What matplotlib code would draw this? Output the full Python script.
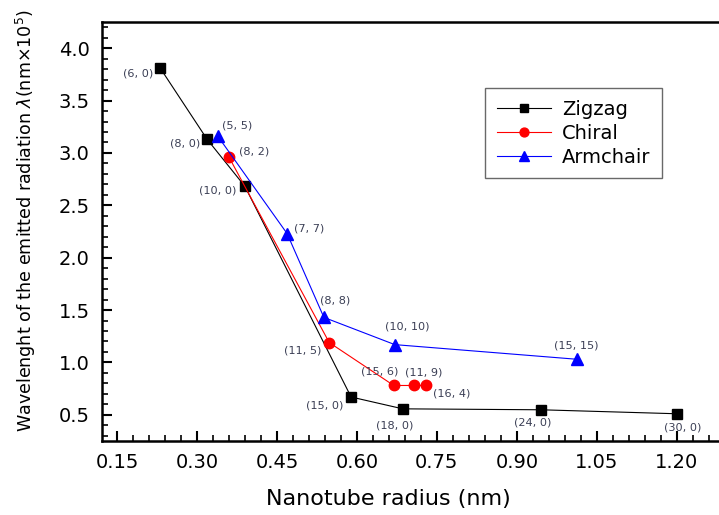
import matplotlib
matplotlib.use("Agg")
import matplotlib.pyplot as plt
from matplotlib.ticker import MultipleLocator, FormatStrFormatter

plt.rcParams['font.family'] = ['DejaVu Sans']

# Emission wavelength vs. nanotube radius for the three chiralities
zigzag_r = [0.231, 0.319, 0.390, 0.589, 0.686, 0.945, 1.200]
zigzag_w = [3.81, 3.13, 2.68, 0.67, 0.557, 0.548, 0.51]
zigzag_lab = ["(6,0)", "(8,0)", "(10,0)", "(15,0)", "(18,0)", "(24,0)", "(30,0)"]

chiral_r = [0.360, 0.548, 0.669, 0.707, 0.729]
chiral_w = [2.96, 1.19, 0.78, 0.78, 0.78]
chiral_lab = ["(8,2)", "(11,5)", "(15,6)", "(11,9)", "(16,4)"]

armchair_r = [0.339, 0.469, 0.538, 0.671, 1.013]
armchair_w = [3.16, 2.23, 1.43, 1.17, 1.03]
armchair_lab = ["(5,5)", "(7,7)", "(8,8)", "(10,10)", "(15,15)"]

# label offsets (points) relative to each marker
zigzag_off = [(-16, -4), (-16, -3), (-20, -3), (-19, -6), (-6, -12), (-6, -9), (4, -10)]
chiral_off = [(18, 4), (-19, -6), (-10, 10), (7, 9), (19, -6)]
armchair_off = [(14, 8), (16, 4), (8, 12), (9, 13), (-1, 10)]

fig = plt.figure(figsize=(7.19, 5.15), dpi=100)
ax = fig.add_axes([0.1419, 0.1437, 0.8581, 0.8136])

ax.plot(zigzag_r, zigzag_w, color="black", lw=0.8, marker="s", ms=7, label="Zigzag")
ax.plot(chiral_r, chiral_w, color="red", lw=0.8, marker="o", ms=7.5, label="Chiral")
ax.plot(armchair_r, armchair_w, color="blue", lw=0.8, marker="^", ms=8, label="Armchair")

for rs, ws, labs, offs in [(zigzag_r, zigzag_w, zigzag_lab, zigzag_off),
                           (chiral_r, chiral_w, chiral_lab, chiral_off),
                           (armchair_r, armchair_w, armchair_lab, armchair_off)]:
    for r, w, lab, off in zip(rs, ws, labs, offs):
        ax.annotate(lab.replace(",", ", "), (r, w), xytext=off, textcoords="offset points",
                    ha="center", va="center", fontsize=8.1, color="#3b3f55")

ax.set_xlim(0.1219, 1.279)
ax.set_ylim(0.25, 4.25)
ax.xaxis.set_major_locator(MultipleLocator(0.15))
ax.xaxis.set_minor_locator(MultipleLocator(0.03))
ax.yaxis.set_major_locator(MultipleLocator(0.5))
ax.yaxis.set_minor_locator(MultipleLocator(0.1))
ax.xaxis.set_major_formatter(FormatStrFormatter("%.2f"))
ax.yaxis.set_major_formatter(FormatStrFormatter("%.1f"))
ax.set_xticks([0.15, 0.30, 0.45, 0.60, 0.75, 0.90, 1.05, 1.20])

ax.tick_params(which="major", direction="in", length=7, width=1.5, labelsize=14, pad=9)
ax.tick_params(which="minor", direction="in", length=4, width=1.2)
ax.tick_params(top=False, right=False)

ax.spines["right"].set_visible(False)
for s in ["left", "bottom", "top"]:
    ax.spines[s].set_linewidth(1.8)

ax.set_xlabel("Nanotube radius (nm)", fontsize=16)
ax.xaxis.set_label_coords(0.4635, -0.115)
ax.set_ylabel("Wavelenght of the emitted radiation $\\lambda$(nm×10$^5$)", fontsize=12.6)
ax.yaxis.set_label_coords(-0.104, 0.527)

leg = ax.legend(loc="upper left", bbox_to_anchor=(0.621, 0.842), borderaxespad=0,
                fontsize=14, handlelength=2.8, handletextpad=0.55, labelspacing=0.25,
                fancybox=False, edgecolor="#444444", borderpad=0.6, markerscale=0.85)
leg.get_frame().set_linewidth(1.0)

fig.savefig("out.png", dpi=100)
